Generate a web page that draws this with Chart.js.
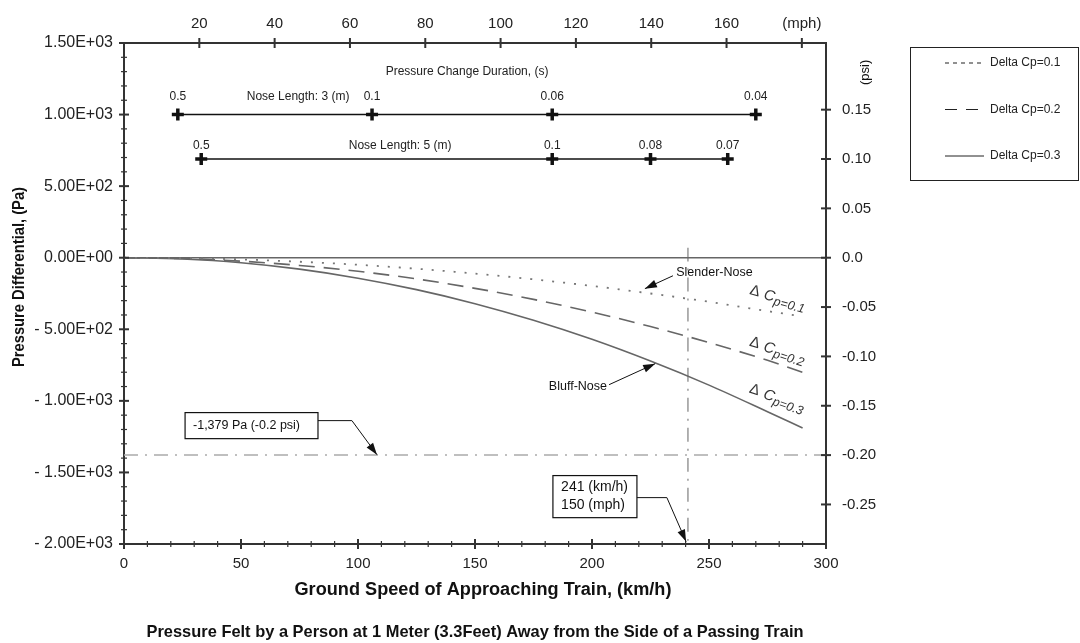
<!DOCTYPE html>
<html>
<head>
<meta charset="utf-8">
<script src="https://cdn.jsdelivr.net/npm/chart.js@4.4.0/dist/chart.umd.min.js"></script>
<style>
  html, body { margin: 0; padding: 0; background: #fff; }
  canvas { display: block; }
</style>
</head>
<body>
<canvas id="chart" width="1080" height="643"></canvas>
<script>
// speeds (km/h) and pressure (Pa)
const speedKmh = [0, 25, 50, 75, 100, 125, 150, 175, 200, 225, 250, 275, 290];
const dCp01 = [0, -3, -12, -28, -49, -77, -111, -151, -197, -250, -308, -373, -410];
const dCp02 = [0, -6, -24, -54, -95, -148, -214, -291, -380, -481, -593, -717, -800];
const dCp03 = [0, -9, -35, -80, -143, -223, -321, -437, -570, -722, -890, -1076, -1190];

// pressure change duration bars
const nose3Speed = [23, 106, 183, 270];
const nose3Dur = ['0.5', '0.1', '0.06', '0.04'];
const nose3Level = 1000;
const nose5Speed = [33, 183, 225, 258];
const nose5Dur = ['0.5', '0.1', '0.08', '0.07'];
const nose5Level = 690;

// reference lines
const limitPa = -1379;
const limitKmh = 241;

// tick values
const mphTicks = [20, 40, 60, 80, 100, 120, 140, 160, 180];
const psiTicks = [0.15, 0.10, 0.05, 0, -0.05, -0.10, -0.15, -0.20, -0.25];

const PA_PER_PSI = 6894.76;
const KMH_PER_MPH = 1.609344;
const FONT = '"Liberation Sans", Arial, sans-serif';

function sci(v) {
  if (v === 0) return '0.00E+00';
  const parts = Math.abs(v).toExponential(2).split('e');
  const e = parseInt(parts[1], 10);
  const s = parts[0] + 'E' + (e >= 0 ? '+' : '-') + String(Math.abs(e)).padStart(2, '0');
  return (v < 0 ? '- ' : '') + s;
}

function pts(xs, ys) {
  return xs.map((x, i) => ({ x: x, y: ys[i] }));
}

// narrow bold text like the original print
function fitText(ctx, text, cx, cy, font, width, rot) {
  ctx.save();
  ctx.font = font;
  const w = ctx.measureText(text).width;
  ctx.translate(cx, cy);
  if (rot) ctx.rotate(rot);
  ctx.scale(width / w, 1);
  ctx.textAlign = 'center';
  ctx.textBaseline = 'middle';
  ctx.fillText(text, 0, 0);
  ctx.restore();
}

function arrow(ctx, x0, y0, x1, y1) {
  ctx.beginPath();
  ctx.moveTo(x0, y0);
  ctx.lineTo(x1, y1);
  ctx.stroke();
  const a = Math.atan2(y1 - y0, x1 - x0);
  ctx.beginPath();
  ctx.moveTo(x1, y1);
  ctx.lineTo(x1 - 12 * Math.cos(a) + 4 * Math.sin(a), y1 - 12 * Math.sin(a) - 4 * Math.cos(a));
  ctx.lineTo(x1 - 12 * Math.cos(a) - 4 * Math.sin(a), y1 - 12 * Math.sin(a) + 4 * Math.cos(a));
  ctx.closePath();
  ctx.fill();
}

// annotations and hand-made tick crosses
const overlay = {
  id: 'overlay',
  afterDraw(chart) {
    const { ctx, chartArea: ca, scales } = chart;
    const X = v => scales.x.getPixelForValue(v);
    const Y = v => scales.y.getPixelForValue(v);
    ctx.save();
    ctx.strokeStyle = '#333';
    ctx.fillStyle = '#222';

    // left axis ticks
    for (let v = -2000; v <= 1500; v += 100) {
      const big = v % 500 === 0;
      ctx.lineWidth = big ? 2 : 1.2;
      ctx.beginPath();
      ctx.moveTo(ca.left - (big ? 5 : 3), Y(v));
      ctx.lineTo(ca.left + (big ? 5 : 3), Y(v));
      ctx.stroke();
    }
    // bottom axis ticks
    for (let v = 0; v <= 300; v += 10) {
      const big = v % 50 === 0;
      ctx.lineWidth = big ? 2 : 1.2;
      ctx.beginPath();
      ctx.moveTo(X(v), ca.bottom - (big ? 5 : 3));
      ctx.lineTo(X(v), ca.bottom + (big ? 5 : 3));
      ctx.stroke();
    }
    // top axis ticks
    ctx.lineWidth = 2;
    mphTicks.forEach(m => {
      const x = scales.x2.getPixelForValue(m);
      ctx.beginPath();
      ctx.moveTo(x, ca.top - 5);
      ctx.lineTo(x, ca.top + 5);
      ctx.stroke();
    });
    // right axis ticks
    psiTicks.forEach(p => {
      const y = scales.y2.getPixelForValue(p);
      ctx.beginPath();
      ctx.moveTo(ca.right - 5, y);
      ctx.lineTo(ca.right + 5, y);
      ctx.stroke();
    });

    // axis titles
    ctx.fillStyle = '#111';
    fitText(ctx, 'Pressure Differential, (Pa)', 19, 277, 'bold 17px ' + FONT, 180, -Math.PI / 2);
    fitText(ctx, 'Ground Speed of Approaching Train, (km/h)', 483, 590, 'bold 18px ' + FONT, 377);
    fitText(ctx, 'Pressure Felt by a Person at 1 Meter (3.3Feet) Away from the Side of a Passing Train', 475, 632, 'bold 16.5px ' + FONT, 657);
    ctx.font = '13px ' + FONT;
    ctx.textAlign = 'center';
    ctx.textBaseline = 'middle';
    ctx.save();
    ctx.translate(ca.right + 39, Y(1295));
    ctx.rotate(-Math.PI / 2);
    ctx.fillText('(psi)', 0, 0);
    ctx.restore();

    // duration bars labels
    ctx.fillStyle = '#222';
    ctx.font = '12px ' + FONT;
    ctx.fillText('Pressure Change Duration, (s)', X(146.6), Y(1299));
    ctx.fillText('Nose Length: 3 (m)', X(74.4), Y(1124));
    ctx.fillText('Nose Length: 5 (m)', X(118), Y(782));
    nose3Speed.forEach((s, i) => ctx.fillText(nose3Dur[i], X(s), Y(nose3Level) - 18));
    nose5Speed.forEach((s, i) => ctx.fillText(nose5Dur[i], X(s), Y(nose5Level) - 13));

    // curve labels
    const curveLabels = [
      { x: 267.5, y: -225, rot: 15, sub: 'p=0.1' },
      { x: 267.5, y: -585, rot: 17, sub: 'p=0.2' },
      { x: 267.5, y: -912, rot: 19, sub: 'p=0.3' }
    ];
    ctx.fillStyle = '#333';
    curveLabels.forEach(l => {
      ctx.save();
      ctx.translate(X(l.x), Y(l.y));
      ctx.rotate(l.rot * Math.PI / 180);
      ctx.textAlign = 'left';
      ctx.textBaseline = 'middle';
      ctx.font = '15px ' + FONT;
      ctx.fillText('\u0394', 0, 0);
      ctx.font = 'italic 15px ' + FONT;
      ctx.fillText('C', 15, 1);
      ctx.font = 'italic 12.5px ' + FONT;
      ctx.fillText(l.sub, 26, 5);
      ctx.restore();
    });

    // nose type callouts
    ctx.fillStyle = '#111';
    ctx.strokeStyle = '#111';
    ctx.lineWidth = 1;
    ctx.font = '12.5px ' + FONT;
    ctx.textAlign = 'left';
    ctx.fillText('Slender-Nose', X(236), Y(-105));
    arrow(ctx, X(234.6), Y(-126), X(222.6), Y(-216));
    ctx.textAlign = 'right';
    ctx.fillText('Bluff-Nose', X(206.4), Y(-901));
    arrow(ctx, X(207.3), Y(-887), X(227), Y(-740));

    // limit boxes
    ctx.lineWidth = 1.2;
    ctx.strokeRect(X(26.1), Y(-1082), X(82.9) - X(26.1), Y(-1264) - Y(-1082));
    ctx.textAlign = 'left';
    ctx.font = '12.5px ' + FONT;
    ctx.fillText('-1,379 Pa (-0.2 psi)', X(29.5), Y(-1173));
    ctx.lineWidth = 1;
    ctx.beginPath();
    ctx.moveTo(X(82.9), Y(-1138));
    ctx.lineTo(X(97.4), Y(-1138));
    ctx.stroke();
    arrow(ctx, X(97.4), Y(-1138), X(108.1), Y(-1376));

    ctx.lineWidth = 1.2;
    ctx.strokeRect(X(183.3), Y(-1522), X(219.2) - X(183.3), Y(-1816) - Y(-1522));
    ctx.font = '14px ' + FONT;
    ctx.fillText('241 (km/h)', X(186.8), Y(-1606));
    ctx.fillText('150 (mph)', X(186.8), Y(-1732));
    ctx.lineWidth = 1;
    ctx.beginPath();
    ctx.moveTo(X(219.2), Y(-1676));
    ctx.lineTo(X(232), Y(-1676));
    ctx.stroke();
    arrow(ctx, X(232), Y(-1676), X(240.2), Y(-1983));

    // legend box
    ctx.strokeStyle = '#222';
    ctx.lineWidth = 1;
    ctx.strokeRect(910.5, 47.5, 168, 133);
    ctx.font = '12px ' + FONT;
    ctx.textAlign = 'left';
    ctx.fillStyle = '#222';
    chart.data.datasets.filter(d => d.legendDash).forEach((d, i) => {
      const y = 63 + i * 46.5;
      ctx.setLineDash(d.legendDash);
      ctx.beginPath();
      ctx.moveTo(945, y);
      ctx.lineTo(984, y);
      ctx.stroke();
      ctx.setLineDash([]);
      ctx.fillText(d.label, 990, y);
    });
    ctx.restore();
  }
};

const crossPoints = {
  showLine: true,
  borderColor: '#111',
  backgroundColor: '#111',
  borderWidth: 1.5,
  pointStyle: 'cross',
  pointRadius: 6,
  pointBorderWidth: 3.5
};

new Chart(document.getElementById('chart'), {
  type: 'scatter',
  data: {
    datasets: [
      { label: 'Delta Cp=0.1', data: pts(speedKmh, dCp01), borderColor: '#777', borderWidth: 1.8, borderDash: [2, 9], legendDash: [4, 4] },
      { label: 'Delta Cp=0.2', data: pts(speedKmh, dCp02), borderColor: '#666', borderWidth: 1.6, borderDash: [16, 9], legendDash: [12, 9] },
      { label: 'Delta Cp=0.3', data: pts(speedKmh, dCp03), borderColor: '#666', borderWidth: 1.6, legendDash: [] },
      { label: 'zero', data: [{ x: 0, y: 0 }, { x: 300, y: 0 }], borderColor: '#666', borderWidth: 1.5 },
      { label: 'limit', data: [{ x: 0, y: limitPa }, { x: 300, y: limitPa }], borderColor: '#aaa', borderWidth: 1.5, borderDash: [14, 7, 2, 7] },
      { label: 'speed', data: [{ x: limitKmh, y: 70 }, { x: limitKmh, y: -2000 }], borderColor: '#999', borderWidth: 1.5, borderDash: [14, 7, 2, 7] },
      Object.assign({ label: 'nose3', data: nose3Speed.map(s => ({ x: s, y: nose3Level })) }, crossPoints),
      Object.assign({ label: 'nose5', data: nose5Speed.map(s => ({ x: s, y: nose5Level })) }, crossPoints)
    ].map(d => Object.assign({ showLine: true, pointRadius: 0, fill: false, cubicInterpolationMode: 'monotone' }, d))
  },
  options: {
    responsive: false,
    animation: false,
    devicePixelRatio: 1,
    layout: { padding: { left: 0, right: 194, top: 0, bottom: 0 } },
    plugins: { legend: { display: false }, tooltip: { enabled: false } },
    scales: {
      x: {
        type: 'linear', position: 'bottom', min: 0, max: 300,
        ticks: { stepSize: 50, padding: 11, color: '#222', font: { family: FONT, size: 15 }, maxRotation: 0, autoSkip: false },
        grid: { display: false, drawTicks: false },
        border: { display: true, color: '#333', width: 2 },
        afterFit: s => { s.height = 99; }
      },
      x2: {
        type: 'linear', position: 'top', min: 0, max: 300 / KMH_PER_MPH,
        afterBuildTicks: s => { s.ticks = mphTicks.map(v => ({ value: v })); },
        ticks: { padding: 10, color: '#222', font: { family: FONT, size: 15 }, maxRotation: 0, autoSkip: false,
                 callback: v => v === 180 ? '(mph)' : String(v) },
        grid: { display: false, drawTicks: false },
        border: { display: true, color: '#333', width: 2 },
        afterFit: s => { s.height = 43; }
      },
      y: {
        type: 'linear', position: 'left', min: -2000, max: 1500,
        ticks: { stepSize: 500, padding: 11, color: '#222', font: { family: FONT, size: 16 }, autoSkip: false, callback: v => sci(v) },
        grid: { display: false, drawTicks: false },
        border: { display: true, color: '#333', width: 2 },
        afterFit: s => { s.width = 124; }
      },
      y2: {
        type: 'linear', position: 'right', min: -2000 / PA_PER_PSI, max: 1500 / PA_PER_PSI,
        afterBuildTicks: s => { s.ticks = psiTicks.map(v => ({ value: v })); },
        ticks: { padding: 16, color: '#222', font: { family: FONT, size: 15 }, autoSkip: false,
                 callback: v => Math.abs(v) < 1e-9 ? '0.0' : v.toFixed(2) },
        grid: { display: false, drawTicks: false },
        border: { display: true, color: '#333', width: 2 },
        afterFit: s => { s.width = 60; }
      }
    }
  },
  plugins: [overlay]
});
</script>
</body>
</html>
